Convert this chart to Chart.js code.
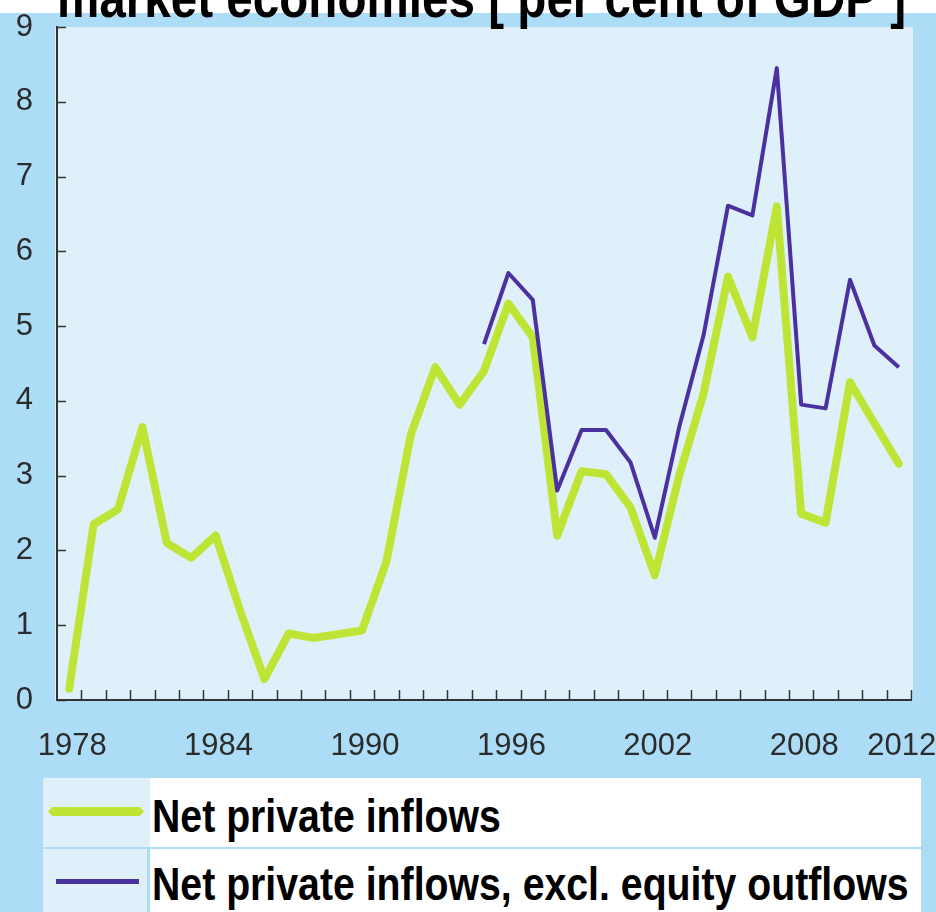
<!DOCTYPE html>
<html>
<head>
<meta charset="utf-8">
<script src="https://cdn.jsdelivr.net/npm/chart.js@4.4.0/dist/chart.umd.min.js"></script>
<style>
  html, body { margin: 0; padding: 0; }
  body {
    width: 936px; height: 912px; overflow: hidden; position: relative;
    background: #acdcf6;
    font-family: "Liberation Sans", Arial, sans-serif;
  }
  #wrap { position: absolute; left: 0; top: 0; width: 936px; height: 770px; }
  #legend { position: absolute; left: 43px; top: 778px; width: 878px; }
  .row { position: relative; display: flex; height: 69px; }
  .row + .row { margin-top: 2px; height: 70px; }
  .swatch { width: 107px; background: #e0f0fb; position: relative; }
  .row + .row .swatch { width: 104px; }
  .row + .row .label { border-left: 3px solid #acdcf6; }
  .swatch div { position: absolute; }
  .label { flex: 1; background: #fff; position: relative; overflow: hidden; }
  .label span {
    position: absolute; left: 2px; top: 15px;
    font-weight: bold; font-size: 46px; line-height: 46px; color: #000;
    transform: scaleX(0.853); transform-origin: left top; white-space: nowrap;
  }
  .row + .row .label span { top: 12px; }
</style>
</head>
<body>
<div id="wrap"><canvas id="flowsChart"></canvas></div>
<div id="legend"></div>
<script>
const titleText = 'market economies [ per cent of GDP ]';

const years = [1978, 1979, 1980, 1981, 1982, 1983, 1984, 1985, 1986, 1987, 1988, 1989,
    1990, 1991, 1992, 1993, 1994, 1995, 1996, 1997, 1998, 1999, 2000, 2001, 2002,
    2003, 2004, 2005, 2006, 2007, 2008, 2009, 2010, 2011, 2012];
const labelledYears = [1978, 1984, 1990, 1996, 2002, 2008, 2012];

const netInflows = [0.15, 2.35, 2.55, 3.65, 2.1, 1.9, 2.2, 1.2, 0.28, 0.89, 0.83, 0.88,
    0.93, 1.85, 3.55, 4.45, 3.95, 4.4, 5.3, 4.85, 2.2, 3.06, 3.02, 2.58, 1.67,
    3.0, 4.1, 5.66, 4.85, 6.6, 2.49, 2.37, 4.25, 3.7, 3.16];
const netExEquity = [null, null, null, null, null, null, null, null, null, null, null, null,
    null, null, null, null, null, 4.76, 5.71, 5.35, 2.8, 3.61, 3.61, 3.18, 2.17,
    3.65, 4.88, 6.61, 6.48, 8.45, 3.95, 3.9, 5.62, 4.74, 4.45];

const seriesNames = ['Net private inflows', 'Net private inflows, excl. equity outflows'];

const green = '#bee536';
const purple = '#4b31a0';
const plotFill = '#e0f0fb';
const axisColor = '#333333';

// backgrounds, the clipped heading and the inward tick marks
const frame = {
    id: 'frame',
    beforeDraw(chart) {
        const {ctx, chartArea: a} = chart;
        ctx.save();
        ctx.fillStyle = '#ffffff';
        ctx.fillRect(0, 0, chart.width, 13);
        ctx.fillStyle = plotFill;
        ctx.fillRect(a.left - 2, a.top, a.right - a.left + 4, a.bottom - a.top);
        ctx.fillStyle = '#000000';
        ctx.font = 'bold 56px "Liberation Sans", Arial, sans-serif';
        ctx.textBaseline = 'alphabetic';
        ctx.translate(57, 17);
        ctx.scale(0.85, 1);
        ctx.fillText(titleText, 0, 0);
        ctx.restore();
    },
    afterDraw(chart) {
        const {ctx, chartArea: a} = chart;
        const x = chart.scales.x;
        const y = chart.scales.y;
        ctx.save();
        ctx.strokeStyle = axisColor;
        ctx.lineWidth = 1.5;
        ctx.beginPath();
        y.ticks.forEach(t => {
            const py = Math.round(y.getPixelForValue(t.value)) + 0.5;
            ctx.moveTo(a.left, py);
            ctx.lineTo(a.left + 9, py);
        });
        const n = years.length;
        for (let i = 1; i <= n; i++) {
            const px = i < n ? (x.getPixelForValue(i - 1) + x.getPixelForValue(i)) / 2 : a.right;
            ctx.moveTo(Math.round(px) + 0.5, a.bottom);
            ctx.lineTo(Math.round(px) + 0.5, a.bottom - 10);
        }
        ctx.stroke();
        ctx.restore();
    }
};

const tickFont = {family: '"Liberation Sans", Arial, sans-serif', size: 31};

const chart = new Chart(document.getElementById('flowsChart'), {
    type: 'line',
    data: {
        labels: years,
        datasets: [
            {
                label: seriesNames[0],
                data: netInflows,
                borderColor: green,
                backgroundColor: green,
                borderWidth: 8,
                borderJoinStyle: 'round',
                borderCapStyle: 'round',
                pointRadius: 0,
                tension: 0,
                fill: false,
                order: 1
            },
            {
                label: seriesNames[1],
                data: netExEquity,
                borderColor: purple,
                backgroundColor: purple,
                borderWidth: 4,
                borderJoinStyle: 'round',
                pointRadius: 0,
                tension: 0,
                fill: false,
                spanGaps: false,
                order: 0
            }
        ]
    },
    options: {
        responsive: true,
        maintainAspectRatio: false,
        animation: false,
        layout: {padding: {top: 27, right: 25, left: 0, bottom: 0}},
        plugins: {
            legend: {display: false},
            tooltip: {enabled: false}
        },
        scales: {
            x: {
                type: 'category',
                offset: true,
                grid: {display: false, drawTicks: false},
                border: {color: axisColor, width: 2},
                ticks: {
                    autoSkip: false,
                    maxRotation: 0,
                    padding: 28,
                    labelOffset: 3,
                    color: '#2b2b2b',
                    font: tickFont,
                    callback: function (value) {
                        const yr = this.getLabelForValue(value);
                        return labelledYears.includes(yr) ? String(yr) : '';
                    }
                },
                afterFit(s) {
                    s.height = 70;
                    s.paddingLeft = 0;
                    s.paddingRight = 0;
                }
            },
            y: {
                min: 0,
                max: 9,
                grid: {display: false, drawTicks: false},
                border: {color: axisColor, width: 2},
                ticks: {stepSize: 1, padding: 24, color: '#2b2b2b', font: tickFont},
                afterFit(s) {
                    s.width = 57;
                    s.paddingTop = 0;
                    s.paddingBottom = 0;
                }
            }
        }
    },
    plugins: [frame]
});

// legend rows built from the chart's datasets
const legendBox = document.getElementById('legend');
chart.data.datasets.forEach((ds, i) => {
    const row = document.createElement('div');
    row.className = 'row';
    const sw = document.createElement('div');
    sw.className = 'swatch';
    const mark = document.createElement('div');
    mark.style.background = ds.borderColor;
    if (i === 0) {
        Object.assign(mark.style, {left: '5px', top: '29px', width: '96px', height: '9px',
            clipPath: 'polygon(4px 0, 92px 0, 96px 50%, 92px 100%, 4px 100%, 0 50%)'});
    } else {
        Object.assign(mark.style, {left: '13px', top: '30px', width: '83px', height: '5px'});
    }
    sw.appendChild(mark);
    const lab = document.createElement('div');
    lab.className = 'label';
    const txt = document.createElement('span');
    txt.textContent = ds.label;
    lab.appendChild(txt);
    row.appendChild(sw);
    row.appendChild(lab);
    legendBox.appendChild(row);
});
</script>
</body>
</html>
